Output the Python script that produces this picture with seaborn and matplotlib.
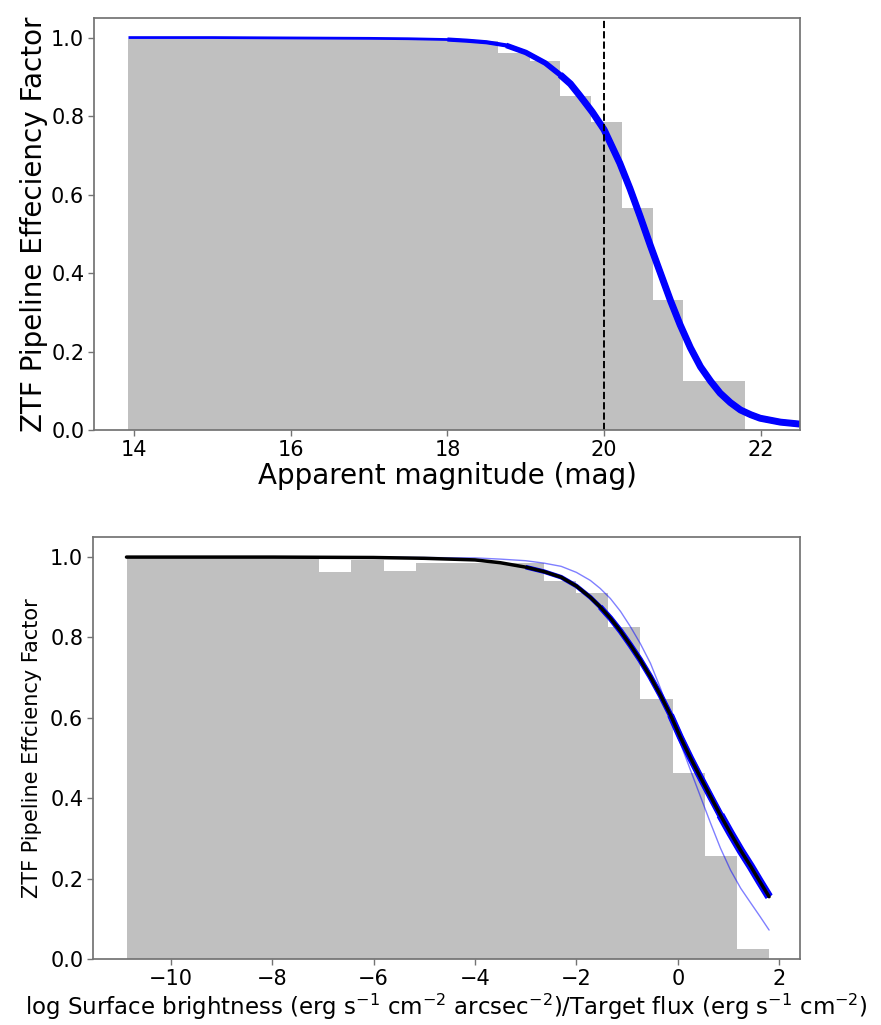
import matplotlib
matplotlib.use('Agg')
import matplotlib.pyplot as plt
import numpy as np
import seaborn as sns

# --- top panel: efficiency vs apparent magnitude ---
mag_edges = [13.93, 14.32, 14.72, 15.11, 15.50, 15.90, 16.29, 16.68, 17.08, 17.47, 17.87,
             18.26, 18.65, 19.05, 19.44, 19.83, 20.23, 20.62, 21.01, 21.41, 21.80]
mag_frac = [0.996, 0.996, 0.996, 0.996, 0.996, 0.996, 0.996, 0.996, 0.996, 0.996, 0.996,
            0.990, 0.960, 0.941, 0.852, 0.784, 0.565, 0.331, 0.126, 0.126]
mag_curve_x = [13.93, 15.0, 16.0, 17.0, 17.5, 18.0, 18.25, 18.5, 18.75, 19.0, 19.25, 19.44,
               19.57, 19.69, 19.85, 20.0, 20.2, 20.33, 20.46, 20.59, 20.72, 20.85, 20.97,
               21.1, 21.23, 21.36, 21.48, 21.61, 21.74, 21.87, 21.99, 22.25, 22.5]
mag_curve_y = [1.0, 1.0, 0.999, 0.998, 0.997, 0.995, 0.992, 0.988, 0.980, 0.962, 0.935, 0.905,
               0.882, 0.852, 0.810, 0.765, 0.680, 0.615, 0.544, 0.470, 0.399, 0.328, 0.268,
               0.210, 0.161, 0.124, 0.094, 0.070, 0.051, 0.039, 0.030, 0.020, 0.015]
mag_cut = 20.0

# --- bottom panel: efficiency vs log surface brightness / target flux ---
sb_edges = [-10.87, -10.24, -9.60, -8.97, -8.34, -7.70, -7.07, -6.44, -5.80, -5.17, -4.54,
            -3.90, -3.27, -2.64, -2.00, -1.37, -0.74, -0.10, 0.53, 1.17, 1.80]
sb_frac = [0.997, 0.997, 0.997, 0.997, 0.997, 0.997, 0.964, 0.993, 0.965, 0.985,
           0.985, 0.985, 0.985, 0.941, 0.910, 0.827, 0.646, 0.464, 0.256, 0.026]
sb_best_x = [-10.87, -8.0, -6.0, -5.0, -4.0, -3.5, -3.0, -2.64, -2.3, -2.0, -1.725, -1.53,
             -1.33, -1.13, -0.935, -0.74, -0.54, -0.34, -0.144, 0.05, 0.25, 0.45, 0.646,
             0.84, 1.04, 1.24, 1.44, 1.62, 1.80]
sb_best_y = [1.0, 1.0, 0.999, 0.997, 0.993, 0.986, 0.975, 0.964, 0.950, 0.928, 0.900, 0.876,
             0.848, 0.816, 0.781, 0.744, 0.702, 0.656, 0.607, 0.552, 0.500, 0.451, 0.404,
             0.358, 0.313, 0.270, 0.230, 0.192, 0.155]
sb_alt_x = [-10.87, -6.0, -4.0, -3.5, -3.0, -2.64, -2.3, -2.0, -1.725, -1.53, -1.33, -1.13,
            -0.935, -0.74, -0.54, -0.34, -0.144, 0.05, 0.25, 0.45, 0.646, 0.84, 1.04,
            1.24, 1.44, 1.62, 1.80]
sb_alt_y = [1.0, 1.0, 0.998, 0.995, 0.991, 0.985, 0.977, 0.962, 0.942, 0.922, 0.897, 0.865,
            0.827, 0.785, 0.736, 0.673, 0.603, 0.537, 0.470, 0.403, 0.338, 0.276, 0.221,
            0.176, 0.139, 0.106, 0.072]

sns.set_theme(style='ticks')
plt.rcParams['font.family'] = ['DejaVu Sans']
plt.rcParams['text.color'] = 'black'
plt.rcParams['axes.labelcolor'] = 'black'
plt.rcParams['axes.edgecolor'] = '0.45'
plt.rcParams['xtick.color'] = '0.45'
plt.rcParams['ytick.color'] = '0.45'
plt.rcParams['xtick.labelcolor'] = 'black'
plt.rcParams['ytick.labelcolor'] = 'black'

fig = plt.figure(figsize=(8.81, 10.25), dpi=100)
ax1 = fig.add_axes([0.1067, 0.5805, 0.8014, 0.402])
ax2 = fig.add_axes([0.1056, 0.0644, 0.8025, 0.4117])

# top
mag_mid = [(a + b) / 2 for a, b in zip(mag_edges[:-1], mag_edges[1:])]
sns.histplot(x=mag_mid, weights=mag_frac, bins=mag_edges, element='step', fill=True,
             color='silver', alpha=1, linewidth=0, ax=ax1)
# the posterior band widens where the curve falls off: stack wider strokes
for start, lw in [(13.93, 2.0), (18.0, 3.0), (18.75, 4.0), (19.44, 5.0)]:
    k = mag_curve_x.index(start)
    sns.lineplot(x=mag_curve_x[k:], y=mag_curve_y[k:], color='blue', linewidth=lw,
                 sort=False, estimator=None, solid_capstyle='butt', ax=ax1)
ax1.axvline(mag_cut, color='black', linestyle='--', linewidth=1.4)
ax1.set_xlim(13.49, 22.5)
ax1.set_ylim(0, 1.05)
ax1.set_xticks([14, 16, 18, 20, 22])
ax1.set_yticks([0.0, 0.2, 0.4, 0.6, 0.8, 1.0])
ax1.set_xlabel('Apparent magnitude (mag)', fontsize=20, labelpad=2)
ax1.set_ylabel('ZTF Pipeline Effeciency Factor', fontsize=20, labelpad=2)
ax1.tick_params(labelsize=15, length=4, width=1, pad=3)

# bottom
sb_mid = [(a + b) / 2 for a, b in zip(sb_edges[:-1], sb_edges[1:])]
sns.histplot(x=sb_mid, weights=sb_frac, bins=sb_edges, element='step', fill=True,
             color='silver', alpha=1, linewidth=0, ax=ax2)
sns.lineplot(x=sb_alt_x, y=sb_alt_y, color='blue', linewidth=1.0, alpha=0.5, sort=False,
             estimator=None, ax=ax2)
for start, lw in [(-3.0, 3.3), (-1.53, 4.2), (-0.144, 5.0), (0.84, 6.0)]:
    j = sb_best_x.index(start)
    sns.lineplot(x=sb_best_x[j:], y=sb_best_y[j:], color='blue', linewidth=lw, sort=False,
                 estimator=None, solid_capstyle='butt', ax=ax2)
sns.lineplot(x=sb_best_x, y=sb_best_y, color='black', linewidth=2.5, sort=False,
             estimator=None, ax=ax2)
ax2.set_xlim(-11.53, 2.41)
ax2.set_ylim(0, 1.05)
ax2.set_xticks([-10, -8, -6, -4, -2, 0, 2])
ax2.set_yticks([0.0, 0.2, 0.4, 0.6, 0.8, 1.0])
ax2.set_xlabel(r'log Surface brightness (erg s$^{-1}$ cm$^{-2}$ arcsec$^{-2}$)/Target flux (erg s$^{-1}$ cm$^{-2}$)',
               fontsize=16.5, labelpad=2)
ax2.set_ylabel('ZTF Pipeline Effciency Factor', fontsize=15, labelpad=6)
ax2.tick_params(labelsize=15, length=4, width=1, pad=3)

fig.savefig('out.png', dpi=100)
